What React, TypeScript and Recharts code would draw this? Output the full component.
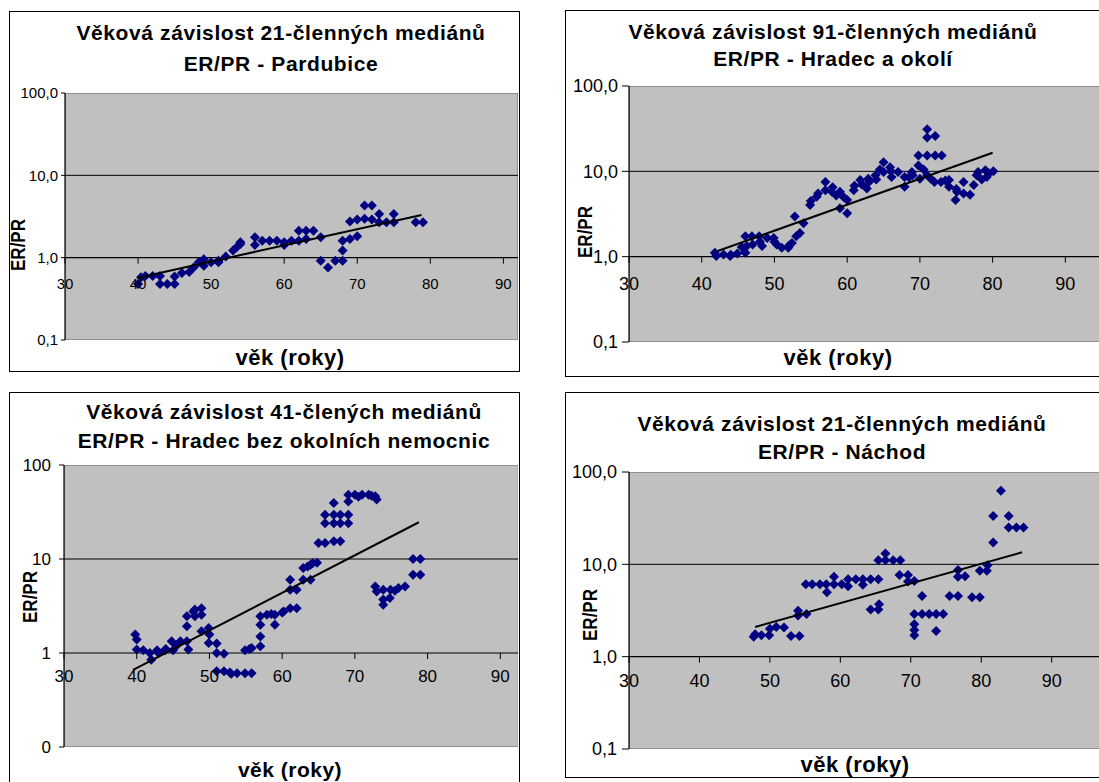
import React from 'react';
import { ScatterChart, Scatter, XAxis, YAxis, ReferenceArea, ReferenceLine } from 'recharts';

const FONT = '"Liberation Sans", Arial, sans-serif';

// ---------- data ----------
const xTicks = [30, 40, 50, 60, 70, 80, 90];
const yTicks = [0.1, 1, 10, 100];

const p1Age = [40, 40.4, 41, 42, 43, 43, 44, 45, 45, 46, 47, 47.6, 48.3, 49, 49, 50, 51, 51, 52, 53, 53.5, 54, 54, 56, 56, 57, 58, 59, 60, 60, 61, 62, 62, 63, 63, 64, 65, 65, 66, 67, 68, 68, 68, 69, 69, 70, 70, 71, 71, 72, 72, 73, 73, 74, 75, 75, 78, 79];
const p1Val = [0.48, 0.58, 0.6, 0.6, 0.6, 0.48, 0.48, 0.48, 0.59, 0.65, 0.67, 0.76, 0.88, 0.96, 0.8, 0.88, 0.88, 0.92, 1.03, 1.22, 1.34, 1.47, 1.54, 1.77, 1.43, 1.61, 1.6, 1.6, 1.54, 1.43, 1.6, 2.13, 1.6, 2.13, 1.69, 2.13, 1.77, 0.92, 0.76, 0.92, 0.92, 1.22, 1.6, 1.69, 2.75, 1.82, 2.9, 4.3, 2.96, 4.3, 2.9, 3.4, 2.7, 2.7, 3.4, 2.7, 2.7, 2.7];
const p1TrendAge = [40, 78.8];
const p1TrendVal = [0.57, 3.3];

const p2Age = [41.8, 42, 43, 43.9, 44.9, 46, 46, 46.2, 46.9, 47, 47.9, 48.3, 49, 49.9, 50.3, 51, 51.9, 52.4, 53, 52.8, 54, 54.9, 55.8, 57, 57, 57.9, 59, 59, 60, 60, 60.9, 61.8, 62.7, 62.9, 63.9, 65, 65, 65.9, 66.1, 67, 67.9, 67.9, 68.9, 69.8, 69.8, 71, 71, 72.1, 71, 72.1, 73, 71, 72, 72.9, 74, 74, 74.9, 75.1, 76, 76, 76.9, 77.4, 77.8, 78, 79, 79.2, 80.1,
  44, 45.5, 48, 50, 52, 53.5, 55, 56, 58, 58.5, 59.5, 61, 62, 63, 64, 64.5, 66, 68.5, 69, 70, 70.5, 71.5, 73.5, 75, 78.5, 79.5];
const p2Val = [1.11, 1.02, 1.06, 1.02, 1.09, 1.11, 1.74, 1.33, 1.74, 1.39, 1.74, 1.33, 1.66, 1.66, 1.39, 1.27, 1.27, 1.45, 1.74, 2.96, 2.47, 4.04, 5.05, 7.5, 6.0, 5.76, 5.76, 3.7, 3.23, 4.6, 6.0, 7.9, 6.3, 8.2, 9.0, 12.8, 9.8, 11.2, 8.6, 9.8, 6.6, 8.6, 9.8, 11.7, 15.3, 31.2, 25, 26, 15.3, 15.3, 15.3, 9, 7.5, 7.5, 7.9, 6.6, 4.6, 5.76, 7.5, 5.5, 5.3, 6.9, 9, 9.8, 10.3, 8.6, 10,
  1.05, 1.3, 1.5, 1.5, 1.35, 1.9, 4.5, 5.5, 6.5, 5.2, 5.0, 6.8, 7.0, 7.5, 8.0, 10.5, 10, 8.5, 9, 8.2, 10.5, 8.2, 7.8, 6.2, 8, 9.5];
const p2TrendAge = [42, 80];
const p2TrendVal = [1.15, 16.5];

const p3Age = [39.8, 40, 40, 40.9, 41.8, 42, 42.8, 43.9, 44.8, 45, 46, 46.9, 47.1, 46.9, 46.9, 47.8, 48, 48.9, 48.9, 48.9, 49.9, 50, 49.9, 51, 51, 52, 51, 52, 52.8, 53.8, 54.9, 55.8, 54.9, 55.8, 57, 57, 57, 57, 57.9, 59, 59, 60.2, 61.1, 62, 61.1, 61.1, 62, 62.9, 63.9, 62.9, 63.9, 64.8, 65, 65.9, 67.1, 68, 65.9, 65.9, 67.1, 67.1, 67.1, 68, 68, 69.1, 69.1, 69.1, 69.1, 70, 71, 71.9, 72.8, 73, 72.8, 73, 73.9, 73.9, 73.9, 74.8, 74.9, 76, 76.9, 78, 79, 78, 79,
  43, 44, 45.5, 48, 53, 55.5, 58.5, 60, 63.5, 64.2, 70.5, 72.3, 75.5];
const p3Val = [1.57, 1.39, 1.09, 1.07, 1.0, 0.85, 1.07, 1.07, 1.33, 1.07, 1.33, 1.33, 1.09, 1.92, 2.46, 2.77, 2.46, 3.0, 2.56, 1.7, 1.84, 1.57, 1.28, 1.26, 1.0, 0.98, 0.64, 0.64, 0.62, 0.61, 0.61, 0.61, 1.07, 1.13, 1.18, 1.5, 2.0, 2.46, 2.56, 2.56, 2.0, 2.77, 3.0, 3.0, 6.0, 4.7, 4.7, 6.0, 6.0, 8.0, 8.7, 9.1, 14.8, 14.8, 15.4, 15.4, 29.6, 24, 29.6, 24, 39.5, 29.6, 24, 29.6, 24, 48.3, 41, 48.3, 48.3, 48.3, 46.4, 42.9, 5.1, 4.5, 4.7, 3.27, 3.7, 3.85, 4.7, 4.9, 5.1, 6.8, 6.8, 10, 10,
  1.0, 1.1, 1.2, 2.9, 0.6, 1.1, 2.6, 2.7, 8.3, 9.0, 46, 47, 4.6];
const p3TrendAge = [39.5, 78.8];
const p3TrendVal = [0.66, 24.6];

const p4Age = [47.7, 47.9, 48.8, 49.9, 50, 50.9, 52, 53, 54.2, 54, 54, 55.2, 55.1, 56, 57.1, 58, 58.1, 59.1, 59.1, 60.2, 61.1, 61.1, 62.2, 63.2, 63.2, 64.3, 65.4, 64.3, 65.4, 65.5, 65.4, 66.4, 66.4, 67.5, 68.5, 68.4, 69.6, 69.6, 70.5, 71.6, 70.5, 70.5, 70.5, 70.5, 71.6, 72.6, 73.6, 74.6, 73.6, 75.5, 76.7, 76.7, 76.7, 77.7, 78.7, 79.8, 79.8, 80.8, 80.9, 81.7, 81.7, 82.8, 83.9, 83.9, 85, 86];
const p4Val = [1.64, 1.75, 1.71, 1.71, 2.0, 2.1, 2.07, 1.67, 1.67, 3.14, 2.8, 2.89, 6.07, 6.07, 6.07, 6.07, 4.97, 7.35, 6.07, 6.07, 6.9, 5.8, 6.9, 6.9, 6.0, 6.9, 6.9, 3.25, 3.25, 3.7, 11.1, 13.1, 11.1, 11.1, 11.1, 7.66, 7.66, 6.5, 6.6, 4.53, 2.89, 2.25, 1.94, 1.71, 2.89, 2.89, 2.89, 2.89, 1.9, 4.53, 4.53, 8.7, 7.35, 7.45, 4.4, 4.4, 8.5, 8.5, 9.8, 17.2, 33.4, 62.5, 33.4, 25, 25, 25];
const p4TrendAge = [47.9, 85.8];
const p4TrendVal = [2.1, 13.5];

const zip = (a: number[], v: number[]) => a.map((age, i) => ({ age, v: v[i] }));

// ---------- helpers ----------
function Diamond(props: any) {
  const { cx, cy } = props;
  if (cx == null || cy == null) return <g />;
  const r = 5;
  return <polygon points={`${cx},${cy - r} ${cx + r},${cy} ${cx},${cy + r} ${cx - r},${cy}`} fill="#000080" />;
}
const NoShape = () => <g />;

const commaFmt = (v: number) => v.toFixed(1).replace('.', ',');
const intFmt = (v: number) => (v < 1 ? '0' : String(v));

type TxtProps = { x: number; y: number; size: number; bold?: boolean; rotate?: boolean; children: React.ReactNode; ls?: number };
function Txt({ x, y, size, bold, rotate, children, ls }: TxtProps) {
  return (
    <div style={{
      position: 'absolute', left: x, top: y,
      transform: `translate(-50%, -50%)${rotate ? ' scale(1.2, 1) rotate(-90deg)' : ''}`,
      fontFamily: FONT, fontSize: size, fontWeight: bold ? 700 : 400, whiteSpace: 'nowrap', lineHeight: 1, color: '#000',
      letterSpacing: ls ?? 0,
    }}>{children}</div>
  );
}

type PanelProps = {
  left: number; top: number; right: number; bottom: number; xMax: number;
  pts: { age: number; v: number }[]; trend: { age: number; v: number }[];
  fmt: (v: number) => string; tickFont: number; yTickSize: number; yTickMargin: number; xLabelDy: number;
};
const Y_W = 80;
const TOP_PAD = 10;
const X_H = 10;

function Panel(p: PanelProps) {
  const plotW = p.right - p.left;
  const plotH = p.bottom - p.top;
  const width = plotW + Y_W;
  const height = plotH + TOP_PAD + X_H;
  const oneY = TOP_PAD + (plotH * 2) / 3; // position of value 1 on the 0.1..100 log axis
  const XTick = (tp: any) => {
    const { x, payload } = tp;
    return (
      <g>
        <line x1={x} x2={x} y1={oneY} y2={oneY + 6} stroke="#000" strokeWidth={1} />
        <text x={x} y={oneY + p.xLabelDy} textAnchor="middle" dominantBaseline="central" fontFamily={FONT} fontSize={p.tickFont} fill="#000">{payload.value}</text>
      </g>
    );
  };
  return (
    <div style={{ position: 'absolute', left: p.left - Y_W, top: p.top - TOP_PAD }}>
      <ScatterChart width={width} height={height} margin={{ top: TOP_PAD, right: 0, bottom: 0, left: 0 }}>
        <ReferenceArea x1={30} x2={p.xMax} y1={0.1} y2={100} fill="#C0C0C0" fillOpacity={1} stroke="#808080" strokeWidth={1.5} ifOverflow="hidden" />
        <ReferenceLine y={10} stroke="#000" strokeWidth={1} />
        <ReferenceLine y={1} stroke="#000" strokeWidth={1.2} />
        <XAxis type="number" dataKey="age" domain={[30, p.xMax]} ticks={xTicks} allowDataOverflow height={X_H}
          axisLine={false} tickLine={false} tick={XTick} interval={0} />
        <YAxis type="number" dataKey="v" scale="log" domain={[0.1, 100]} ticks={yTicks} allowDataOverflow width={Y_W}
          tickFormatter={p.fmt} axisLine={{ stroke: '#000', strokeWidth: 1.2 }} tickLine={{ stroke: '#000' }}
          tickSize={p.yTickSize} tickMargin={p.yTickMargin} interval={0}
          tick={{ fill: '#000', fontSize: p.tickFont, fontFamily: FONT }} />
        <Scatter data={p.pts} shape={Diamond} isAnimationActive={false} />
        <Scatter data={p.trend} shape={NoShape} line={{ stroke: '#000', strokeWidth: 2 }} isAnimationActive={false} />
      </ScatterChart>
    </div>
  );
}

function Box({ l, t, w, h }: { l: number; t: number; w: number; h: number }) {
  return <div style={{ position: 'absolute', left: l, top: t, width: w, height: h, border: '1.5px solid #000', boxSizing: 'border-box', background: '#fff' }} />;
}

export default function App() {
  const TS = 21;
  const AX = 22;
  const YT = 17;
  const LS = 0.6;
  return (
    <div style={{ position: 'absolute', left: 0, top: 0, width: 1099, height: 782, overflow: 'hidden', background: '#fff' }}>
      {/* Panel 1 */}
      <Box l={9} t={11} w={511} h={361} />
      <Panel left={65} top={93} right={518} bottom={340} xMax={92} pts={zip(p1Age, p1Val)} trend={zip(p1TrendAge, p1TrendVal)}
        fmt={commaFmt} tickFont={15} yTickSize={4} yTickMargin={3} xLabelDy={26} />
      <Txt x={281} y={32} size={TS} bold ls={LS}>Věková závislost 21-členných mediánů</Txt>
      <Txt x={281} y={63} size={TS} bold ls={LS}>ER/PR - Pardubice</Txt>
      <Txt x={290} y={358} size={AX} bold ls={0.5}>věk (roky)</Txt>
      <Txt x={18} y={245} size={YT} bold rotate>ER/PR</Txt>

      {/* Panel 2 */}
      <Box l={565} t={10} w={560} h={367} />
      <Panel left={629} top={86} right={1109} bottom={342} xMax={96} pts={zip(p2Age, p2Val)} trend={zip(p2TrendAge, p2TrendVal)}
        fmt={commaFmt} tickFont={18} yTickSize={7} yTickMargin={4} xLabelDy={27} />
      <Txt x={833} y={31} size={TS} bold ls={LS}>Věková závislost 91-členných mediánů</Txt>
      <Txt x={833} y={58} size={TS} bold ls={LS}>ER/PR - Hradec a okolí</Txt>
      <Txt x={838} y={358} size={AX} bold ls={0.5}>věk (roky)</Txt>
      <Txt x={585} y={232} size={YT} bold rotate>ER/PR</Txt>

      {/* Panel 3 */}
      <Box l={9} t={392} w={511} h={410} />
      <Panel left={63.5} top={465} right={518} bottom={747} xMax={92.5} pts={zip(p3Age, p3Val)} trend={zip(p3TrendAge, p3TrendVal)}
        fmt={intFmt} tickFont={17} yTickSize={5} yTickMargin={8} xLabelDy={23} />
      <Txt x={284} y={411} size={TS} bold ls={LS}>Věková závislost 41-člených mediánů</Txt>
      <Txt x={284} y={440} size={TS} bold ls={LS}>ER/PR - Hradec bez okolních nemocnic</Txt>
      <Txt x={290} y={769} size={21} bold ls={0.5}>věk (roky)</Txt>
      <Txt x={30} y={597} size={YT} bold rotate>ER/PR</Txt>

      {/* Panel 4 */}
      <Box l={565} t={392} w={560} h={386} />
      <Panel left={629} top={472} right={1101} bottom={749} xMax={97} pts={zip(p4Age, p4Val)} trend={zip(p4TrendAge, p4TrendVal)}
        fmt={commaFmt} tickFont={18} yTickSize={7} yTickMargin={5} xLabelDy={24} />
      <Txt x={842} y={423} size={TS} bold ls={LS}>Věková závislost 21-členných mediánů</Txt>
      <Txt x={842} y={451} size={TS} bold ls={LS}>ER/PR - Náchod</Txt>
      <Txt x={855} y={765} size={AX} bold ls={0.5}>věk (roky)</Txt>
      <Txt x={590} y={615} size={YT} bold rotate>ER/PR</Txt>
    </div>
  );
}
